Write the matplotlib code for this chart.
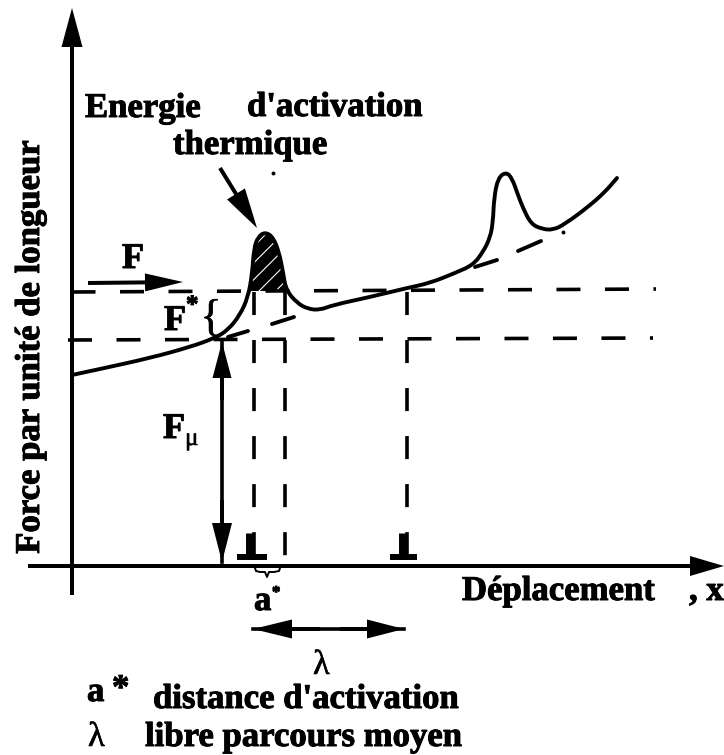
import matplotlib
matplotlib.use('Agg')
import matplotlib.pyplot as plt
import matplotlib.patheffects as pe
from matplotlib.path import Path
from matplotlib.patches import PathPatch

plt.rcParams['font.family'] = ['Liberation Serif', 'DejaVu Serif']
plt.rcParams['hatch.linewidth'] = 0.8

curve_x = [72, 100, 150, 190, 215, 228, 240, 248, 252, 254, 258, 265, 273, 279, 283, 286, 297, 308, 320, 333,
           370, 407, 430, 455, 473, 483, 490, 493, 494, 498, 506, 512, 518, 523, 531, 542, 553, 565, 588, 605, 617]
curve_y = [375, 369, 358, 347, 338, 330, 315, 297, 275, 248, 237, 232, 237, 252, 272, 290, 303, 309, 310, 305,
           297, 288, 283, 273, 265, 252, 238, 222, 198, 178, 172, 178, 195, 208, 224, 229, 230, 224, 207, 192, 178]

peak_x = [250, 252, 254, 258, 265, 273, 279, 283, 286]
peak_y = [291, 275, 248, 237, 232, 237, 252, 272, 291]

upper_x = [71.5, 656]
upper_y = [292, 289]
lower_x = [68, 653]
lower_y = [340, 338]
drop_x = [254, 285, 407]
drop_top = 292
drop_bottom = 557

tangent_x = [228, 272, 475, 518]
tangent_y = [337, 324, 267, 251]
tangent_end_x = [248, 294, 497, 541]
tangent_end_y = [331, 317, 260, 241]

# x0, y0, x1, y1, head length, head width
arrows = [
    (72, 595, 72, 8, 39, 21),
    (28, 566, 724, 566, 34, 20),
    (88, 283, 183, 282, 38, 18),
    (220, 168, 257, 228, 40, 21),
    (222, 400, 222, 342, 36, 19),
    (222, 500, 222, 562, 39, 20),
    (320, 629, 253, 629, 39, 19),
    (340, 629, 404, 629, 37, 19),
]
shaft_x = [222, 222]
shaft_y = [342, 562]
lambda_x = [253, 404]
lambda_y = [629, 629]

disloc_x = [252, 403.5]
disloc_half = [15, 13.5]
stem_x = [248.5, 401.5]

speck_x = [563, 273]
speck_y = [232, 173]

brace_x = [255, 256, 260, 265, 267, 269, 274, 279, 280]
brace_y = [568, 571, 572, 572, 577, 572, 572, 571, 568]

# x, baseline y, text, size
labels = [
    (85, 117, 'Energie', 25),
    (247, 116, "d'activation", 25),
    (173, 154, 'thermique', 25),
    (122, 268, 'F', 26),
    (164, 330, 'F', 26),
    (163, 438, 'F', 26),
    (462, 600, 'Déplacement', 25),
    (689, 600, ', x', 25),
    (254, 610, 'a', 25),
    (87, 701, 'a', 25),
    (153, 708, "distance d'activation", 25),
    (145, 746, 'libre parcours moyen', 25),
    (186, 312, '*', 18),
    (272, 597, '*', 12),
    (112, 698, '*', 25),
]
thin_labels = [
    (88, 746, 'λ', 25),
    (313, 674, 'λ', 25),
    (185, 445, 'μ', 18),
]

fig = plt.figure(figsize=(7.24, 7.55), dpi=100)
ax = fig.add_axes([0, 0, 1, 1])
ax.set_xlim(0, 724)
ax.set_ylim(755, 0)
ax.axis('off')


def smooth_path(xs, ys):
    # quadratic pieces with the read points as control points
    pts = list(zip(xs, ys))
    verts = [pts[0]]
    codes = [Path.MOVETO]
    for p, q in zip(pts[1:-1], pts[2:]):
        verts += [p, ((p[0] + q[0]) / 2, (p[1] + q[1]) / 2)]
        codes += [Path.CURVE3, Path.CURVE3]
    verts.append(pts[-1])
    codes.append(Path.LINETO)
    return Path(verts, codes)


ax.fill(peak_x, peak_y, facecolor='black', edgecolor='white', hatch='//', lw=0)
ax.add_patch(PathPatch(smooth_path(curve_x, curve_y), facecolor='none', edgecolor='black',
                       lw=2.8, capstyle='round'))

h_dashes = (0, (6.65, 6.78))
v_dashes = (0, (6.38, 6.92))
ax.plot(upper_x, upper_y, color='black', lw=2.6, ls=h_dashes, dash_capstyle='butt')
ax.plot(lower_x, lower_y, color='black', lw=2.6, ls=h_dashes, dash_capstyle='butt')
for x in drop_x:
    ax.plot([x, x], [drop_top, drop_bottom], color='black', lw=2.6, ls=v_dashes, dash_capstyle='butt')
for x0, y0, x1, y1 in zip(tangent_x, tangent_y, tangent_end_x, tangent_end_y):
    ax.plot([x0, x1], [y0, y1], color='black', lw=2.8, solid_capstyle='round')

ax.plot(shaft_x, shaft_y, color='black', lw=2.6)
ax.plot(lambda_x, lambda_y, color='black', lw=2.6)
for x0, y0, x1, y1, length, head in arrows:
    ax.arrow(x0, y0, x1 - x0, y1 - y0, width=4, head_width=head, head_length=length,
             length_includes_head=True, color='black', lw=0)

for x, half, stem in zip(disloc_x, disloc_half, stem_x):
    ax.plot([x - half, x + half], [557, 557], color='black', lw=4.3, solid_capstyle='butt')
    ax.plot([stem, stem], [533, 557], color='black', lw=5, solid_capstyle='butt')

ax.plot(brace_x, brace_y, color='black', lw=1.4)
ax.scatter(speck_x, speck_y, s=8, color='black', lw=0)

heavy = [pe.withStroke(linewidth=0.7, foreground='black')]
light = [pe.withStroke(linewidth=0.4, foreground='black')]
for x, y, s, size in labels:
    ax.text(x, y, s, fontsize=size, fontweight='bold', ha='left', va='baseline',
            color='black', path_effects=heavy)
for x, y, s, size in thin_labels:
    ax.text(x, y, s, fontsize=size, ha='left', va='baseline', color='black', path_effects=light)
ax.text(211, 319, '{', fontsize=32, ha='center', va='center', path_effects=light)

ax.text(39, 347, 'Force par unité de longueur', fontsize=25, fontweight='bold', rotation=90,
        ha='center', va='baseline', rotation_mode='anchor', path_effects=heavy)

fig.savefig('out.png', dpi=100, facecolor='white')
